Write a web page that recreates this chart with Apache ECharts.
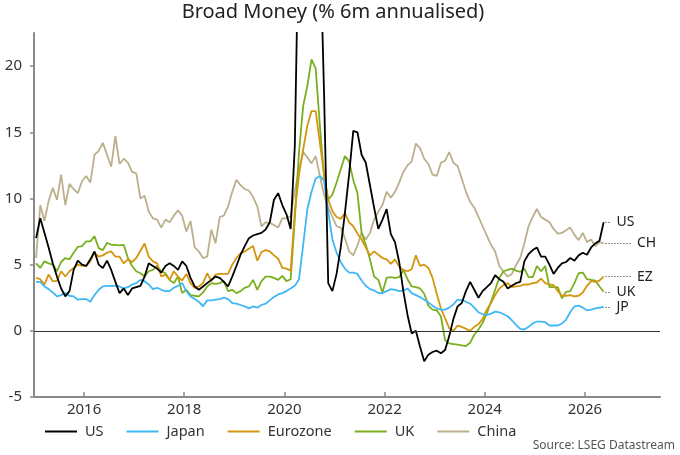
<!DOCTYPE html>
<html>
<head>
<meta charset="utf-8">
<title>Broad Money</title>
<script src="https://cdn.jsdelivr.net/npm/echarts@6/dist/echarts.min.js"></script>
<style>
  html, body { margin: 0; padding: 0; background: #fff; }
  #main { width: 680px; height: 455px; }
</style>
</head>
<body>
<div id="main"></div>
<script>
// monthly data, Jan 2015 .. May 2026 (% 6m annualised)
var startYear = 2015;
var yearTicks = [2016, 2018, 2020, 2022, 2024, 2026];
var valueTicks = [-5, 0, 5, 10, 15, 20];

var us = [7.0, 8.5, 7.4, 6.3, 5.1, 4.1, 3.2, 2.6, 3.0, 4.6,
  5.3, 5.0, 4.9, 5.4, 6.0, 5.0, 4.75, 5.3, 4.6, 3.7,
  2.85, 3.2, 2.7, 3.2, 3.3, 3.4, 4.1, 5.1, 4.9, 4.7,
  4.4, 4.9, 5.1, 4.9, 4.6, 5.25, 4.9, 4.0, 3.35, 3.1,
  3.35, 3.6, 3.85, 4.1, 4.0, 3.7, 3.35, 4.1, 4.9, 5.75,
  6.4, 7.0, 7.2, 7.3, 7.4, 7.65, 8.2, 9.9, 10.4, 9.5,
  8.8, 7.7, 14.0, 32.0, 40.0, 42.0, 38.0, 34.0, 30.0, 18.0,
  3.6, 3.0, 4.3, 6.3, 8.9, 11.8, 15.1, 15.0, 13.3, 12.7,
  11.0, 9.3, 7.7, 8.4, 9.2, 7.3, 6.7, 5.2, 3.0, 1.2,
  -0.2, 0.0, -1.2, -2.3, -1.8, -1.6, -1.5, -1.7, -1.45, -0.4,
  0.9, 1.85, 2.1, 3.0, 3.7, 3.1, 2.5, 3.0, 3.3, 3.6,
  4.2, 3.9, 3.7, 3.2, 3.4, 3.6, 3.7, 5.25, 5.8, 6.1,
  6.3, 5.6, 5.6, 5.0, 4.3, 4.75, 5.1, 5.2, 5.5, 5.3,
  5.7, 5.9, 5.75, 6.3, 6.6, 6.8, 8.2];

var japan = [3.7, 3.7, 3.35, 3.15, 2.9, 2.6, 2.7, 2.85, 2.65, 2.6,
  2.35, 2.4, 2.4, 2.2, 2.7, 3.1, 3.35, 3.4, 3.4, 3.4,
  3.35, 3.2, 3.3, 3.5, 3.6, 3.85, 3.75, 3.5, 3.15, 3.25,
  3.1, 3.0, 3.0, 3.25, 3.4, 3.6, 3.0, 2.6, 2.4, 2.2,
  1.85, 2.3, 2.3, 2.35, 2.4, 2.5, 2.4, 2.1, 2.05, 1.95,
  1.85, 1.7, 1.85, 1.75, 1.95, 2.05, 2.3, 2.55, 2.75, 2.85,
  3.0, 3.2, 3.4, 3.9, 6.5, 9.2, 10.5, 11.5, 11.7, 11.35,
  9.0, 6.9, 5.9, 5.2, 4.7, 4.4, 4.4, 4.3, 3.8, 3.4,
  3.15, 3.05, 2.85, 2.85, 3.0, 3.15, 3.1, 3.0, 3.05, 3.2,
  2.85, 2.7, 2.55, 2.35, 2.15, 1.9, 1.7, 1.6, 1.6, 1.75,
  2.0, 2.35, 2.3, 2.2, 2.05, 1.75, 1.4, 1.25, 1.2, 1.3,
  1.45, 1.4, 1.25, 1.1, 0.8, 0.45, 0.15, 0.1, 0.3, 0.55,
  0.7, 0.7, 0.65, 0.4, 0.4, 0.4, 0.55, 0.85, 1.4, 1.85,
  1.9, 1.75, 1.55, 1.6, 1.7, 1.75, 1.8];

var eurozone = [4.0, 3.9, 3.5, 4.25, 3.75, 3.75, 4.5, 4.1, 4.5, 4.75,
  5.0, 4.9, 4.9, 5.25, 5.9, 5.6, 5.7, 5.9, 6.0, 5.6,
  5.6, 5.1, 5.4, 5.2, 5.5, 6.05, 6.6, 5.6, 5.25, 5.1,
  4.1, 4.25, 3.85, 4.5, 4.1, 3.8, 4.3, 3.6, 3.25, 3.35,
  3.6, 4.35, 3.75, 4.25, 4.3, 4.3, 4.3, 5.0, 5.5, 5.85,
  6.0, 6.2, 6.4, 5.3, 5.95, 6.1, 6.0, 5.7, 5.45, 4.75,
  4.7, 4.55, 9.0, 11.8, 13.7, 15.5, 16.6, 16.6, 14.2, 11.9,
  9.9, 9.05, 8.6, 8.45, 8.9, 8.2, 7.9, 7.35, 6.9, 6.3,
  5.7, 6.0, 5.75, 5.5, 5.4, 5.05, 5.4, 4.85, 4.6, 4.5,
  4.65, 5.7, 4.9, 5.0, 4.75, 4.0, 2.8, 1.7, 0.95, 0.2,
  0.0, 0.4, 0.3, 0.15, 0.0, 0.3, 0.5, 0.9, 1.6, 2.1,
  2.7, 3.2, 3.45, 3.6, 3.3, 3.35, 3.4, 3.5, 3.5, 3.6,
  3.65, 3.95, 3.6, 3.5, 3.45, 3.0, 2.65, 2.65, 2.7, 2.6,
  2.65, 2.9, 3.4, 3.75, 3.7, 3.8, 4.1];

var uk = [5.1, 4.75, 5.25, 5.1, 5.0, 4.5, 5.2, 5.5, 5.4, 5.9,
  6.35, 6.4, 6.75, 6.75, 7.15, 6.25, 6.1, 6.65, 6.5, 6.5,
  6.45, 6.5, 5.5, 4.9, 4.5, 4.35, 4.1, 4.5, 4.6, 4.9,
  4.5, 4.35, 3.85, 3.6, 4.1, 2.85, 3.1, 2.7, 2.65, 2.6,
  2.9, 3.35, 3.6, 3.55, 3.6, 3.75, 3.0, 3.1, 2.85, 3.0,
  3.25, 3.35, 3.85, 3.1, 3.75, 4.1, 4.1, 4.0, 3.85, 4.15,
  3.75, 3.9, 8.5, 13.5, 17.0, 18.5, 20.5, 19.8, 15.5, 11.6,
  9.9, 10.3, 11.2, 12.2, 13.2, 12.8, 11.4, 10.4, 7.4, 6.5,
  5.4, 4.1, 3.85, 2.9, 4.0, 4.05, 4.0, 4.05, 4.6, 3.9,
  3.35, 3.3, 3.2, 2.8, 1.9, 1.6, 1.55, 1.1, -0.7, -0.95,
  -1.0, -1.05, -1.1, -1.15, -0.9, -0.3, 0.1, 0.6, 1.3, 2.2,
  3.1, 4.0, 4.5, 4.6, 4.7, 4.55, 4.45, 4.7, 4.05, 4.05,
  4.9, 4.5, 4.9, 3.3, 3.3, 3.3, 2.45, 2.95, 3.0, 3.6,
  4.35, 4.4, 3.9, 3.85, 3.8, 3.35, 2.95];

var china = [5.5, 9.5, 8.3, 9.8, 10.8, 9.9, 11.8, 9.5, 11.1, 10.7,
  10.4, 11.3, 11.7, 11.2, 13.3, 13.6, 14.2, 13.3, 12.4, 14.7,
  12.6, 13.0, 12.7, 12.0, 11.9, 10.0, 10.2, 9.0, 8.5, 8.4,
  7.8, 8.4, 8.2, 8.7, 9.1, 8.7, 7.5, 8.3, 6.3, 6.0,
  5.5, 5.6, 7.65, 6.6, 8.6, 8.7, 9.4, 10.5, 11.4, 11.0,
  10.7, 10.6, 10.1, 9.4, 7.9, 8.2, 8.15, 8.0, 7.8, 8.5,
  8.5, 8.65, 10.6, 12.2, 13.5, 13.1, 12.65, 13.2, 11.7, 10.3,
  9.3, 8.6, 7.9, 7.8, 7.0, 6.0, 5.7, 6.45, 7.4, 6.9,
  7.4, 8.4, 9.0, 9.5, 10.5, 10.05, 10.5, 11.2, 12.0, 12.5,
  12.8, 14.15, 13.8, 13.0, 12.6, 11.8, 11.7, 12.7, 12.85, 13.5,
  12.7, 12.45, 11.5, 10.5, 9.75, 9.3, 8.6, 7.9, 7.2, 6.5,
  6.0, 4.9, 4.45, 4.1, 4.3, 4.95, 5.5, 6.6, 7.9, 8.6,
  9.2, 8.6, 8.4, 8.2, 7.7, 7.35, 7.4, 7.6, 7.8, 7.25,
  6.85, 7.4, 6.7, 6.9, 6.4, 6.7, 6.6];

// month i sits mid-month on a decimal-year axis
function toPoints(values) {
    return values.map(function(v, i) {
        return [startYear + (i + 0.5) / 12, v];
    });
}

var font = 'Noto Sans';

// dotted leader from the last point out to the right-hand tag
function endTag(values, tag, len) {
    var lastX = startYear + (values.length - 0.5) / 12;
    var lastV = values[values.length - 1];
    return {
        silent: true,
        symbol: ['none', 'none'],
        lineStyle: { color: '#222', width: 1, type: [1, 2] },
        label: {
            show: true, position: 'end', distance: 5,
            formatter: tag, color: '#222', fontSize: 14, fontFamily: font
        },
        data: [[{ coord: [lastX + 0.036, lastV] }, { coord: [lastX + len, lastV] }]]
    };
}

function makeSeries(name, values, color, tag, len) {
    return {
        name: name,
        type: 'line',
        data: toPoints(values),
        showSymbol: false,
        symbol: 'none',
        lineStyle: { color: color, width: 1.8 },
        itemStyle: { color: color },
        markLine: endTag(values, tag, len)
    };
}

var chinaSeries = makeSeries('China', china, '#BCB08C', 'CH', 0.565);
// zero line
chinaSeries.markLine.data.push({
    yAxis: 0,
    lineStyle: { color: '#333', width: 1, type: 'solid' },
    label: { show: false }
});

var myChart = echarts.init(document.getElementById('main'));
var option = {
    animation: false,
    textStyle: { fontFamily: font },
    legend: {
        data: ['US', 'Japan', 'Eurozone', 'UK', 'China'],
        left: 40,
        top: 419,
        icon: 'rect',
        itemWidth: 32,
        itemHeight: 2,
        itemGap: 23,
        textStyle: { fontSize: 14.5, color: '#333', fontFamily: font, padding: [0, 0, 0, 3] }
    },
    grid: { left: 34, right: 20, top: 33, bottom: 58 },
    xAxis: {
        type: 'value',
        min: 2015,
        max: 2027.5,
        interval: 1,
        axisLine: { show: true, onZero: false, lineStyle: { color: '#8a8a8a', width: 2 } },
        axisTick: { show: true, inside: true, length: 5, customValues: yearTicks,
            lineStyle: { color: '#8a8a8a', width: 1.5 } },
        axisLabel: { customValues: yearTicks, fontSize: 15, color: '#333', margin: 5,
            fontFamily: font, formatter: function(v) { return String(v); } },
        splitLine: { show: false }
    },
    yAxis: {
        type: 'value',
        min: -5,
        max: 22.5,
        interval: 5,
        axisLine: { show: true, lineStyle: { color: '#8a8a8a', width: 2 } },
        axisTick: { show: true, length: 4, customValues: valueTicks,
            lineStyle: { color: '#8a8a8a', width: 1.5 } },
        axisLabel: { customValues: valueTicks, fontSize: 15, color: '#333', margin: 12, fontFamily: font },
        splitLine: { show: false }
    },
    graphic: [{
        type: 'text',
        x: 333,
        y: 2,
        style: { text: 'Broad Money (% 6m annualised)', fontSize: 20, fill: '#222',
            fontFamily: font, textAlign: 'center', textVerticalAlign: 'top' }
    }, {
        type: 'text',
        right: 5,
        top: 440,
        style: { text: 'Source: LSEG Datastream', fontSize: 12, fill: '#555', fontFamily: font }
    }],
    series: [
        chinaSeries,
        makeSeries('UK', uk, '#7AAF1F', 'UK', 0.156),
        makeSeries('Eurozone', eurozone, '#D4960E', 'EZ', 0.565),
        makeSeries('Japan', japan, '#3FB8F5', 'JP', 0.156),
        makeSeries('US', us, '#000000', 'US', 0.156)
    ]
};
myChart.setOption(option);
</script>
</body>
</html>
